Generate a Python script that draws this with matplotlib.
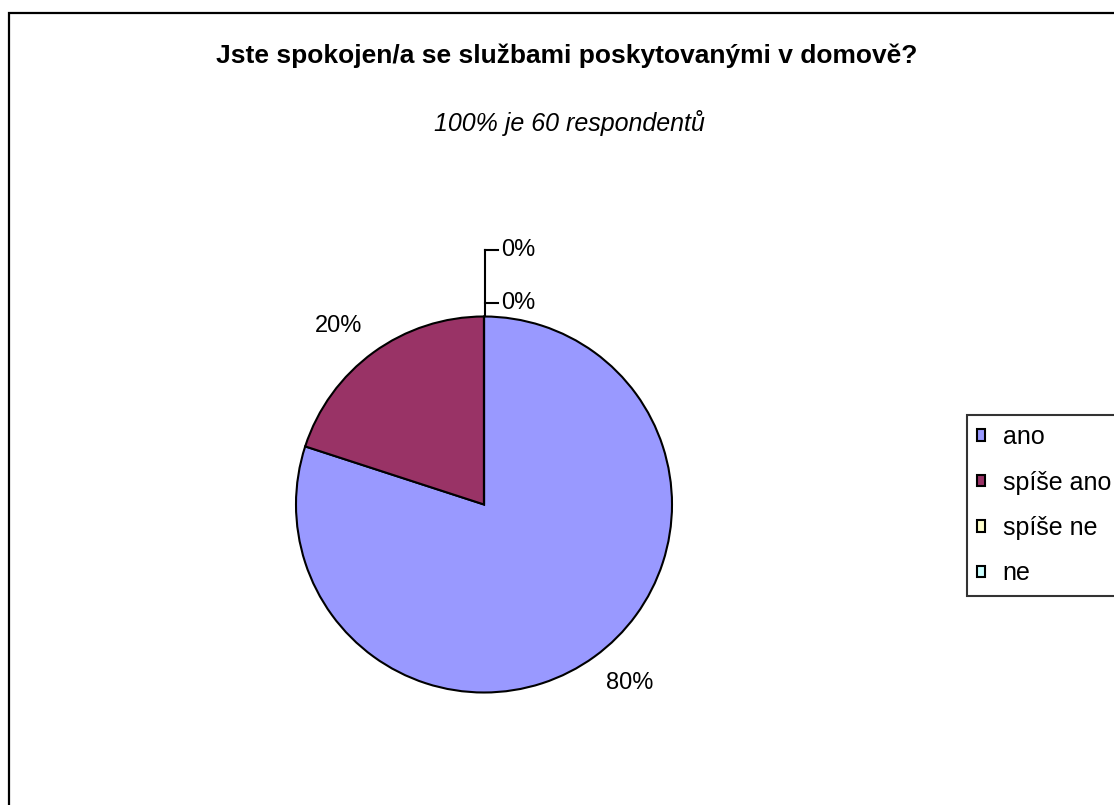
import numpy as np
import matplotlib.pyplot as plt

# survey answers (60 respondents)
categories = ['ano', 'spíše ano', 'spíše ne', 'ne']
counts = [48, 12, 0, 0]
colors = ['#9999FF', '#993366', '#FFFFCC', '#CCFFFF']

title = 'Jste spokojen/a se službami poskytovanými v domově?'
subtitle = '100% je 60 respondentů'

W, H = 1114, 805
plt.rcParams['font.family'] = ['Liberation Sans', 'DejaVu Sans']

fig = plt.figure(figsize=(W / 100, H / 100), dpi=100)
ax = fig.add_axes([0, 0, 1, 1])

def Y(py):
    return H - py

cx, cy, R = 484, Y(504.5), 188
wedges, texts, autotexts = ax.pie(
    counts, colors=colors, startangle=90, counterclock=False,
    center=(cx, cy), radius=R, frame=True,
    autopct=lambda p: f'{p:.0f}%',
    wedgeprops=dict(edgecolor='black', linewidth=1.5),
    textprops=dict(fontsize=17, color='black'))

# labels of the filled wedges sit just outside the rim, corner towards the pie
for w, t in zip(wedges[:2], autotexts[:2]):
    mid = np.deg2rad((w.theta1 + w.theta2) / 2)
    t.set_position((cx + 1.1 * R * np.cos(mid), cy + 1.1 * R * np.sin(mid)))
    t.set_ha('left' if np.cos(mid) > 0 else 'right')
    t.set_va('top' if np.sin(mid) < 0 else 'bottom')

# the empty answers get their labels on a leader line above the pie
ax.plot([485, 485], [Y(316), Y(250)], color='black', lw=1.5)
for t, py in zip(autotexts[2:], [303, 250]):
    ax.plot([485, 498], [Y(py), Y(py)], color='black', lw=1.5)
    t.set_position((501, Y(py)))
    t.set_ha('left')
    t.set_va('center')

ax.text(567, Y(63), title, fontsize=19, fontweight='bold', ha='center', va='baseline')
ax.text(569, Y(131), subtitle, fontsize=18, style='italic', ha='center', va='baseline')

# chart area border (runs past the right and bottom edges)
ax.plot([9, 9, W + 20], [-20, Y(13), Y(13)], color='black', lw=1.6, solid_joinstyle='miter')

leg = ax.legend(wedges, categories, loc='upper left',
                bbox_to_anchor=(967 / W, 1 - 415 / H), bbox_transform=fig.transFigure,
                borderaxespad=0, fontsize=18, frameon=True, fancybox=False,
                handlelength=0.33, handleheight=0.33, handletextpad=0.7,
                labelspacing=0.86, borderpad=0.4)
leg.get_frame().set_edgecolor('black')
leg.get_frame().set_linewidth(1.5)

ax.set_xlim(0, W)
ax.set_ylim(0, H)
ax.set_aspect('auto')
ax.axis('off')

fig.savefig('out.png', dpi=100, facecolor='white')
